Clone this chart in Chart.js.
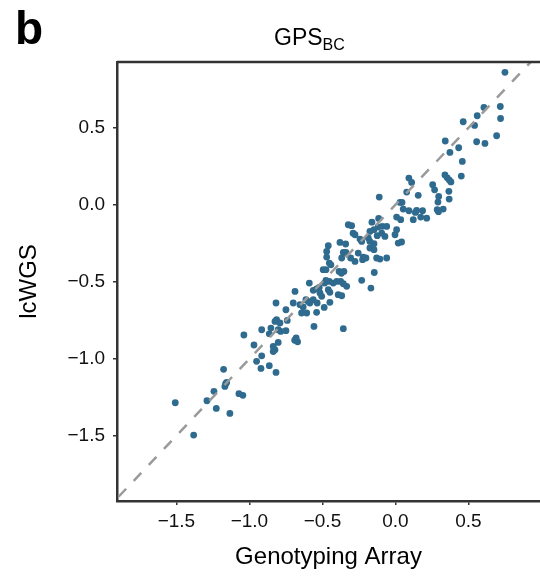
<!DOCTYPE html>
<html>
<head>
<meta charset="utf-8">
<script src="https://cdn.jsdelivr.net/npm/chart.js@4/dist/chart.umd.min.js"></script>
<style>
  html, body { margin: 0; padding: 0; background: #fff; }
</style>
</head>
<body>
<canvas id="chart" width="540" height="576"></canvas>
<script>
const FONT = '"Liberation Sans", Arial, Helvetica, sans-serif'

// Genotyping array score (x) vs lcWGS score (y)
const genoArray = [
  0.75, 0.606, 0.718, 0.560, 0.720, 0.464, 0.542, 0.693, 0.341, 0.556, 0.613, 0.433, 0.373, 0.458, 0.339, 0.355, 0.369, 0.380, 0.451, 0.092, 0.111,
  0.255, 0.268, 0.366, 0.368, 0.077, 0.156, 0.296, 0.291, -0.111, 0.031, 0.045, 0.053, 0.092, 0.145, 0.186, 0.136, 0.286, 0.327, 0.295, 0.008,
  0.036, 0.122, 0.173, 0.214, -0.115, -0.161, -0.300, -0.323, -0.118, -0.090, -0.060, 0.008, -0.147, -0.175,
  -0.277, -0.290, -0.243, -0.231, -0.186, -0.125, -0.094, -0.072, -0.003, 0.042, 0.019, -0.175, -0.175, -0.147, -0.147, -0.255, -0.221, -0.129,
  -0.106, -0.060, -0.460, -0.380, -0.341, -0.471, -0.357, -0.339, -0.471, -0.368, -0.307, -0.277, -0.225, -0.202, -0.453, -0.442, -0.495, -0.476,
  -0.386, -0.353, -0.370, -0.145,
  -0.231, -0.590, -0.476, -0.453, -0.485, -0.426, -0.402, -0.375, -0.357, -0.168, -0.334, -0.688, -0.563, -0.540, -0.522, -0.517, -0.505, -0.460,
  -0.449, -0.392, -0.368, -0.613, -0.597, -0.586, -0.563, -0.536, -0.449, -0.488, -0.540, -0.608, -0.700, -0.654, -0.632, -0.643, -0.818, -0.750,
  -0.814, -0.825, -0.791, -0.741, -0.558,
  -1.038, -0.969, -0.916, -0.853, -0.864, -0.803, -0.786, -0.750, -0.803, -0.837, -0.825, -0.837, -0.916, -0.951, -0.921, -0.864, -0.818, -0.690,
  -0.680, -0.670, -0.357, -1.508, -1.382, -1.291, -1.243, -1.227, -1.177, -1.163, -1.156, -1.168, -1.134, -1.072, -1.045
]
const lcWgs = [
  0.86, 0.632, 0.638, 0.578, 0.560, 0.539, 0.515, 0.448, 0.414, 0.409, 0.398, 0.370, 0.340, 0.281, 0.193, 0.175, 0.160, 0.148, 0.186, 0.173, 0.145,
  0.130, 0.097, 0.087, 0.037, 0.082, 0.061, 0.054, 0.017, 0.050, 0.015, 0.015, -0.028, -0.039, -0.037, -0.039, -0.050, -0.032, -0.028, -0.045, -0.080,
  -0.097, -0.097, -0.080, -0.087, -0.089, -0.113, -0.136, -0.130, -0.145, -0.140, -0.141, -0.162, -0.162, -0.173,
  -0.195, -0.185, -0.223, -0.238, -0.216, -0.201, -0.184, -0.206, -0.195, -0.242, -0.249, -0.238, -0.281, -0.292, -0.253, -0.314, -0.340, -0.346,
  -0.353, -0.346, -0.266, -0.245, -0.255, -0.303, -0.310, -0.310, -0.340, -0.346, -0.346, -0.368, -0.357, -0.346, -0.379, -0.390, -0.422, -0.422,
  -0.433, -0.433, -0.445, -0.440,
  -0.491, -0.509, -0.491, -0.498, -0.509, -0.509, -0.498, -0.498, -0.513, -0.541, -0.530, -0.563, -0.556, -0.547, -0.537, -0.573, -0.595, -0.552,
  -0.569, -0.584, -0.591, -0.617, -0.628, -0.638, -0.617, -0.638, -0.634, -0.667, -0.699, -0.703, -0.638, -0.649, -0.664, -0.703, -0.638, -0.682,
  -0.747, -0.758, -0.768, -0.751, -0.790,
  -0.846, -0.911, -0.812, -0.801, -0.838, -0.812, -0.823, -0.818, -0.894, -0.920, -0.942, -0.953, -0.981, -1.017, -1.063, -1.045, -1.089, -0.880,
  -0.865, -0.890, -0.805, -1.286, -1.496, -1.273, -1.212, -1.323, -1.069, -1.162, -1.154, -1.180, -1.355, -1.227, -1.238
]

// identity line y = x
const identity = [-2, 1]

const xTicks = [-1.5, -1.0, -0.5, 0.0, 0.5]
const yTicks = [-1.5, -1.0, -0.5, 0.0, 0.5]
const xRange = [-1.907, 0.99]
const yRange = [-1.924, 0.927]

const fmt = v => (v < 0 ? '\u2212' : '') + Math.abs(v).toFixed(1)

const points = genoArray.map((x, i) => ({ x, y: lcWgs[i] }))

const decorations = {
  id: 'decorations',
  afterDraw (chart) {
    const { ctx, chartArea: a } = chart
    ctx.save()
    // top frame line
    ctx.strokeStyle = '#333'
    ctx.lineWidth = 2.5
    ctx.beginPath()
    ctx.moveTo(a.left, a.top)
    ctx.lineTo(a.right + 2, a.top)
    ctx.stroke()

    ctx.fillStyle = '#000'
    ctx.textBaseline = 'alphabetic'
    ctx.font = `bold 46px ${FONT}`
    ctx.fillText('b', 15, 44)

    ctx.font = `23px ${FONT}`
    ctx.fillText('GPS', 274, 45)
    const w = ctx.measureText('GPS').width
    ctx.font = `16px ${FONT}`
    ctx.fillText('BC', 274 + w, 50)
    ctx.restore()
  }
}

const noPad = scale => {
  scale.paddingLeft = 0
  scale.paddingRight = 0
  scale.paddingTop = 0
  scale.paddingBottom = 0
}

const axisStyle = (title, ticks, range, padTitle, tickPad) => ({
  type: 'linear',
  min: range[0],
  max: range[1],
  afterBuildTicks: scale => { scale.ticks = ticks.map(value => ({ value })) },
  border: { display: true, color: '#333', width: 2.5 },
  grid: { display: true, drawOnChartArea: false, drawTicks: true, tickLength: 4, color: '#333', lineWidth: 1.5 },
  ticks: { color: '#111', font: { family: FONT, size: 19 }, padding: tickPad, callback: fmt, maxRotation: 0 },
  title: { display: true, text: title, color: '#000', font: { family: FONT, size: 24 }, padding: padTitle }
})

const ctx = document.getElementById('chart').getContext('2d')
new Chart(ctx, {
  type: 'scatter',
  data: {
    datasets: [
      {
        type: 'line',
        data: identity.map(v => ({ x: v, y: v })),
        borderColor: '#9a9a9a',
        borderWidth: 2.5,
        borderDash: [11, 11],
        pointRadius: 0,
        fill: false
      },
      {
        data: points,
        backgroundColor: '#2f6b8e',
        borderWidth: 0,
        pointRadius: 3.4,
        pointHoverRadius: 3.4
      }
    ]
  },
  options: {
    responsive: false,
    animation: false,
    layout: { autoPadding: false, padding: { top: 62, right: 0, left: 0, bottom: 0 } },
    plugins: { legend: { display: false }, tooltip: { enabled: false }, title: { display: false } },
    scales: {
      x: {
        ...axisStyle('Genotyping Array', xTicks, xRange, { top: 0, bottom: 4.5 }, 5),
        afterFit: scale => { scale.height = 75; noPad(scale) }
      },
      y: {
        ...axisStyle('lcWGS', yTicks, yRange, { top: 14.6, bottom: 0 }, 8),
        afterFit: scale => { scale.width = 117; noPad(scale) }
      }
    }
  },
  plugins: [decorations]
})
</script>
</body>
</html>
